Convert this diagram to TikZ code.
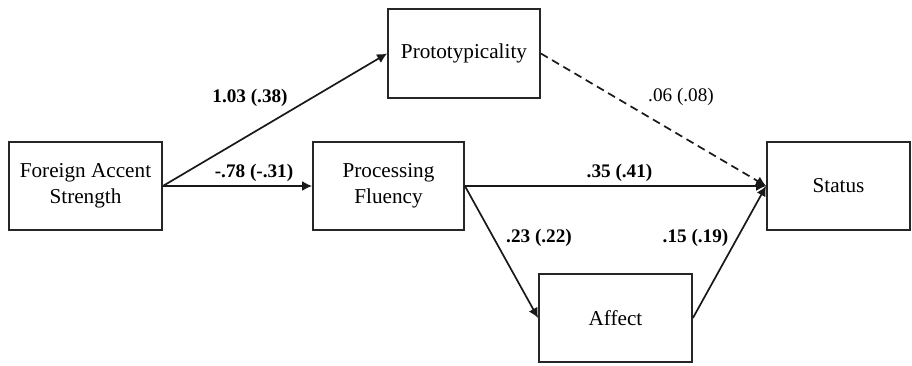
\documentclass[tikz,border=0pt]{standalone}
\usepackage{fontspec}
\setmainfont{Liberation Serif}
\usetikzlibrary{arrows.meta}
\begin{document}
\begin{tikzpicture}[x=0.5pt,y=-0.5pt,
  box/.style={draw=black!85, line width=0.9pt, inner sep=0pt, align=center,
    font=\fontsize{10.6pt}{13pt}\selectfont, minimum height=44pt},
  conn/.style={draw=black!90, line width=0.85pt, -{Latex[length=5pt,width=5pt]}},
  lab/.style={font=\fontsize{9.6pt}{11pt}\selectfont\bfseries, inner sep=0pt},
  labn/.style={font=\fontsize{9.6pt}{11pt}\selectfont, inner sep=0pt}]
\useasboundingbox (0,0) rectangle (912,365);
\node[box, minimum width=76.5pt] (fas) at (85.5,186) {Foreign Accent\\Strength};
\node[box, minimum width=76pt, minimum height=44.5pt] (proto) at (464,53.5) {Prototypicality};
\node[box, minimum width=75.5pt] (pf) at (388.5,186) {Processing\\Fluency};
\node[box, minimum width=71.5pt] (status) at (838.5,186) {Status};
\node[box, minimum width=76.5pt] (affect) at (615.5,318) {Affect};
\draw[conn] (fas.east) -- (proto.west);
\draw[conn] (fas.east) -- (pf.west);
\draw[conn] (pf.east) -- (status.west);
\draw[conn, dash pattern=on 4pt off 2.5pt] (proto.east) -- (status.west);
\draw[conn] (pf.east) -- (affect.west);
\draw[conn] (affect.east) -- (status.west);
\node[lab] (l1) at (250,98) {1.03 (.38)};
\node[lab] (l2) at (254,173) {-.78 (-.31)};
\node[labn] (l3) at (681,97) {.06 (.08)};
\node[lab] (l4) at (619.5,173) {.35 (.41)};
\node[lab] (l5) at (539,238) {.23 (.22)};
\node[lab] (l6) at (695.5,238) {.15 (.19)};
\end{tikzpicture}
\end{document}
